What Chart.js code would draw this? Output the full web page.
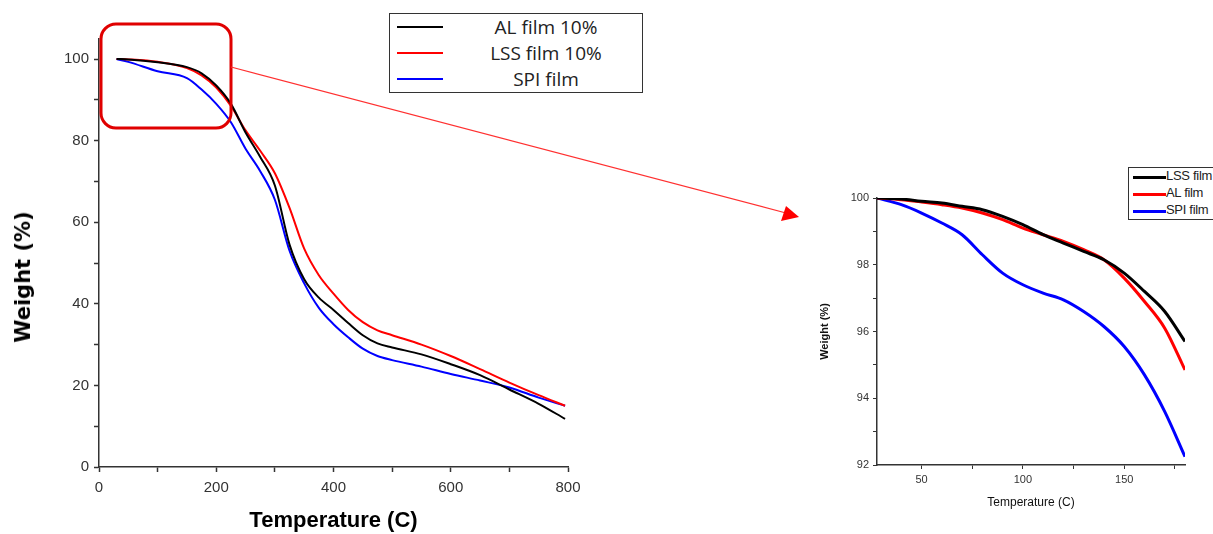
<!DOCTYPE html>
<html>
<head>
<meta charset="utf-8">
<script src="https://cdn.jsdelivr.net/npm/chart.js@4.4.0/dist/chart.umd.min.js"></script>
<style>
  html, body { margin: 0; padding: 0; background: #fff; overflow: hidden; }
  body { width: 1213px; height: 534px; position: relative; }
  #mainBox { position: absolute; left: 0; top: 0; width: 700px; height: 534px; }
  #zoomBox { position: absolute; left: 790px; top: 150px; width: 423px; height: 384px; }
  #overlay { position: absolute; left: 0; top: 0; pointer-events: none; }
  #mainYTitle { position: absolute; left: 23px; top: 277px; transform: translate(-50%, -50%) rotate(-90deg);
                white-space: nowrap; font-family: "DejaVu Sans", sans-serif; font-weight: bold; font-size: 21px; color: #000; }
  .legend { position: absolute; background: #fff; border: 1px solid #333; box-sizing: border-box; }
  .row { position: absolute; left: 0; right: 0; }
  .swatch { position: absolute; }
  .label { position: absolute; white-space: nowrap; color: #222; }
  #mainLegend { left: 389px; top: 13px; width: 254px; height: 80px; font-family: "Open Sans", sans-serif; font-size: 19px; }
  #mainLegend .swatch { left: 7px; width: 46px; height: 2px; }
  #mainLegend .label { left: 60px; right: 0; text-align: center; line-height: 24px; }
  #zoomLegend { left: 1128px; top: 167px; width: 110px; height: 53px; font-family: "Liberation Sans", Arial, sans-serif; font-size: 13px; }
  #zoomLegend .swatch { left: 4px; width: 33px; height: 3px; }
  #zoomLegend .label { left: 37px; line-height: 15px; letter-spacing: -0.3px; }
</style>
</head>
<body>
<div id="mainBox"><canvas id="mainChart"></canvas></div>
<div id="zoomBox"><canvas id="zoomChart"></canvas></div>
<div id="mainYTitle">Weight (%)</div>
<div class="legend" id="mainLegend"></div>
<div class="legend" id="zoomLegend"></div>
<svg id="overlay" width="1213" height="534">
  <rect x="101" y="24" width="130" height="104" rx="15" ry="15" fill="none" stroke="#e00000" stroke-width="3"/>
  <line x1="231" y1="67" x2="786" y2="213" stroke="#ff3030" stroke-width="1.2"/>
  <polygon points="799,217 781,221 786,206" fill="#ff0000"/>
</svg>
<script>
// main TGA curves (0-800 C)
let mainTemps = [30, 50, 100, 150, 175, 200, 225, 250, 275, 300, 325, 350, 375, 400, 425, 450, 475, 500, 550, 600, 650, 700, 750, 795];
let alMain  = [100, 99.9, 99.2, 98, 96.5, 93.5, 89, 82, 76, 69, 54.5, 46, 41.5, 38.5, 35.3, 32.3, 30.3, 29.3, 27.6, 25.2, 22.5, 19, 15.5, 11.8];
let lssMain = [100, 99.9, 99.3, 97.8, 96, 93, 88.5, 82.5, 77.5, 72, 63.5, 53.5, 47, 42.5, 38.5, 35.5, 33.5, 32.3, 30, 27.2, 24, 20.7, 17.6, 15];
let spiMain = [100, 99.3, 97, 95.3, 92.5, 89, 84.5, 78, 72.5, 65.5, 53, 45, 39, 35, 31.8, 29, 27.2, 26.2, 24.6, 22.8, 21.2, 19.5, 17, 15];
let mainNames = ['AL film 10%', 'LSS film 10%', 'SPI film'];

// zoomed region (28-180 C)
let zoomTemps = [28, 40, 50, 60, 70, 80, 90, 100, 110, 120, 130, 140, 150, 160, 170, 180];
let lssZoom = [100, 99.97, 99.9, 99.85, 99.75, 99.65, 99.45, 99.2, 98.9, 98.65, 98.4, 98.15, 97.75, 97.2, 96.6, 95.7];
let alZoom  = [100, 99.95, 99.88, 99.8, 99.7, 99.55, 99.35, 99.1, 98.9, 98.7, 98.45, 98.15, 97.6, 96.9, 96.1, 94.85];
let spiZoom = [100, 99.8, 99.55, 99.25, 98.9, 98.3, 97.75, 97.4, 97.15, 96.95, 96.6, 96.15, 95.55, 94.7, 93.6, 92.25];
let zoomNames = ['LSS film', 'AL film', 'SPI film'];

let colors = ['#000000', '#ff0000', '#0000ff'];

function pairs(xs, ys) {
    return xs.map((x, i) => ({ x: x, y: ys[i] }));
}

function makeSets(xs, series, width) {
    return series.map((ys, i) => ({
        data: pairs(xs, ys),
        borderColor: colors[i],
        borderWidth: width,
        pointRadius: 0,
        fill: false,
        cubicInterpolationMode: 'monotone'
    }));
}

function buildLegend(id, names) {
    let box = document.getElementById(id);
    let h = box.clientHeight / names.length;
    names.forEach((name, i) => {
        let row = document.createElement('div');
        row.className = 'row';
        row.style.top = (i * h) + 'px';
        row.style.height = h + 'px';
        let sw = document.createElement('div');
        sw.className = 'swatch';
        sw.style.background = colors[i];
        sw.style.top = (h / 2 - 1) + 'px';
        let lb = document.createElement('div');
        lb.className = 'label';
        lb.textContent = name;
        lb.style.top = (h / 2 - parseFloat(getComputedStyle(box).fontSize) * 0.62) + 'px';
        row.appendChild(sw);
        row.appendChild(lb);
        box.appendChild(row);
    });
}

buildLegend('mainLegend', mainNames);
buildLegend('zoomLegend', zoomNames);

const axisColor = '#333';
const tickFont = { family: 'Liberation Sans, Arial, sans-serif' };

function fixedTicks(list) {
    return (s) => { s.ticks = list.map(v => ({ value: v })); };
}

let mainChart = new Chart(document.getElementById('mainChart'), {
    type: 'line',
    data: { datasets: makeSets(mainTemps, [alMain, lssMain, spiMain], 2) },
    options: {
        responsive: true,
        maintainAspectRatio: false,
        animation: false,
        layout: { padding: { top: 38.6, right: 132, left: 0, bottom: 0 } },
        plugins: { legend: { display: false }, tooltip: { enabled: false } },
        scales: {
            x: {
                type: 'linear', min: 0, max: 800,
                afterFit: (s) => { s.height = 67; },
                afterBuildTicks: fixedTicks([0, 100, 200, 300, 400, 500, 600, 700, 800]),
                border: { color: axisColor, width: 1.5 },
                grid: { drawOnChartArea: false, tickLength: 5, color: axisColor, tickWidth: 1.5 },
                ticks: {
                    autoSkip: false, maxRotation: 0, padding: 7,
                    color: '#333', font: { ...tickFont, size: 15 },
                    callback: (v) => (v % 200 === 0 ? v : '')
                },
                title: {
                    display: true, text: 'Temperature (C)', color: '#000',
                    font: { family: 'Liberation Sans, Arial, sans-serif', size: 22, weight: 'bold' },
                    padding: { top: 0, bottom: 0 }
                }
            },
            y: {
                min: 0, max: 105,
                afterFit: (s) => { s.width = 99; },
                afterBuildTicks: fixedTicks([0, 10, 20, 30, 40, 50, 60, 70, 80, 90, 100]),
                border: { color: axisColor, width: 1.5 },
                grid: { drawOnChartArea: false, tickLength: 5, color: axisColor, tickWidth: 1.5 },
                ticks: {
                    autoSkip: false, padding: 5,
                    color: '#333', font: { ...tickFont, size: 15 },
                    callback: (v) => (v % 20 === 0 ? v : '')
                },
                title: { display: false }
            }
        }
    }
});

let zoomChart = new Chart(document.getElementById('zoomChart'), {
    type: 'line',
    data: { datasets: makeSets(zoomTemps, [lssZoom, alZoom, spiZoom], 3) },
    options: {
        responsive: true,
        maintainAspectRatio: false,
        animation: false,
        layout: { padding: { top: 48, right: 28, left: 0, bottom: 0 } },
        plugins: { legend: { display: false }, tooltip: { enabled: false } },
        scales: {
            x: {
                type: 'linear', min: 28, max: 180,
                afterFit: (s) => { s.height = 69; },
                afterBuildTicks: fixedTicks([50, 75, 100, 125, 150, 175]),
                border: { color: axisColor, width: 1.5 },
                grid: { drawOnChartArea: false, tickLength: 4, color: axisColor, tickWidth: 1 },
                ticks: {
                    autoSkip: false, maxRotation: 0, padding: 4,
                    color: '#333', font: { ...tickFont, size: 11 },
                    callback: (v) => (v % 50 === 0 ? v : '')
                },
                title: {
                    display: true, text: 'Temperature (C)', color: '#111',
                    font: { family: 'Liberation Sans, Arial, sans-serif', size: 12 },
                    padding: { top: 0, bottom: 24 }
                }
            },
            y: {
                min: 92, max: 100,
                afterFit: (s) => { s.width = 87; },
                border: { color: axisColor, width: 1.5 },
                grid: { drawOnChartArea: false, tickLength: 4, color: axisColor, tickWidth: 1 },
                ticks: {
                    stepSize: 1, autoSkip: false, padding: 4,
                    color: '#333', font: { ...tickFont, size: 11 },
                    callback: (v) => (v % 2 === 0 ? v : '')
                },
                title: {
                    display: true, text: 'Weight (%)', color: '#111',
                    font: { family: 'Liberation Sans, Arial, sans-serif', size: 11, weight: 'bold' },
                    padding: { top: 28, bottom: 0 }
                }
            }
        }
    }
});
</script>
</body>
</html>
